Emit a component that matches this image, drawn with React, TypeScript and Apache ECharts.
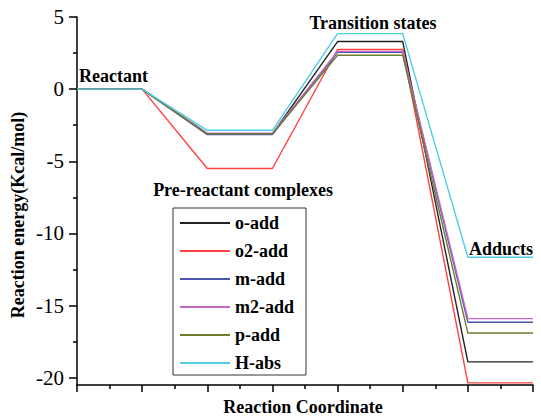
import React, { useEffect, useRef } from "react";
import * as echarts from "echarts";

const stages = [0, 1, 2, 3, 4, 5, 6, 7];
const seriesNames = ["o-add", "o2-add", "m-add", "m2-add", "p-add", "H-abs"];
const oAdd = [0, 0, -3.1, -3.1, 3.3, 3.3, -18.9, -18.9];
const o2Add = [0, 0, -5.5, -5.5, 2.75, 2.75, -20.35, -20.35];
const mAdd = [0, 0, -3.15, -3.15, 2.55, 2.55, -16.15, -16.15];
const m2Add = [0, 0, -3.05, -3.05, 2.62, 2.62, -15.9, -15.9];
const pAdd = [0, 0, -3.1, -3.1, 2.35, 2.35, -16.9, -16.9];
const hAbs = [0, 0, -2.85, -2.85, 3.85, 3.85, -11.65, -11.65];
const seriesValues = [oAdd, o2Add, mAdd, m2Add, pAdd, hAbs];
const colors = ["#222222", "#ff4040", "#4a56b0", "#c06ac6", "#6f7d2e", "#4fcde6"];
const yMajorTicks = [-20, -15, -10, -5, 0, 5];
const yMinorTicks = [-17.5, -12.5, -7.5, -2.5, 2.5];
const annotations = [
  { text: "Reactant", x: 79, y: 76, align: "left" },
  { text: "Pre-reactant complexes", x: 243, y: 190, align: "center" },
  { text: "Transition states", x: 373, y: 23, align: "center" },
  { text: "Adducts", x: 469, y: 249, align: "left" },
];

const FONT = "Times New Roman, Liberation Serif, DejaVu Serif, serif";

export default function App() {
  const ref = useRef<HTMLDivElement>(null);
  useEffect(() => {
    if (!ref.current) return;
    const chart = echarts.init(ref.current, null, { renderer: "svg" });
    const series = seriesNames.map((name, k) => ({
      name,
      type: "line",
      yAxisIndex: 0,
      data: stages.map((x, i) => [x, seriesValues[k][i]]),
      symbol: "none",
      lineStyle: { color: colors[k], width: 1.4 },
      itemStyle: { color: colors[k] },
    }));
    const textStyleBase = {
      fontFamily: FONT,
      fontWeight: "bold",
      fontSize: 18,
      fill: "#000",
      textVerticalAlign: "middle",
    };
    const graphics: any[] = annotations.map((a) => ({
      type: "text",
      x: a.x,
      y: a.y,
      style: { ...textStyleBase, text: a.text, textAlign: a.align },
    }));
    graphics.push({
      type: "text",
      x: 18,
      y: 215,
      rotation: Math.PI / 2,
      style: { ...textStyleBase, text: "Reaction energy(Kcal/mol)", textAlign: "center" },
    });
    graphics.push({
      type: "text",
      x: 303,
      y: 407,
      style: { ...textStyleBase, text: "Reaction Coordinate", textAlign: "center" },
    });
    chart.setOption({
      animation: false,
      backgroundColor: "#fff",
      textStyle: { fontFamily: FONT },
      grid: { left: 77, right: 8, top: 17, bottom: 31 },
      legend: {
        orient: "vertical",
        left: 173,
        top: 208,
        data: seriesNames,
        itemWidth: 50,
        itemHeight: 14,
        itemGap: 10,
        padding: [6, 12, 3, 6],
        borderColor: "#333",
        borderWidth: 1,
        itemStyle: { opacity: 0 },
        textStyle: { fontFamily: FONT, fontWeight: "bold", fontSize: 18, color: "#000" },
      },
      xAxis: {
        type: "value",
        min: 0,
        max: 7,
        interval: 1,
        axisLine: { onZero: false, lineStyle: { color: "#000", width: 1.5 } },
        axisTick: { show: true, length: 7, lineStyle: { color: "#000", width: 1.5 } },
        minorTick: { show: true, splitNumber: 2, length: 4, lineStyle: { color: "#000", width: 1.5 } },
        axisLabel: { show: false },
        splitLine: { show: false },
      },
      yAxis: [
        {
          type: "value",
          min: -20.5,
          max: 5,
          position: "left",
          axisLine: { onZero: false, lineStyle: { color: "#000", width: 1.5 } },
          axisTick: { show: true, length: 8, customValues: yMajorTicks, lineStyle: { color: "#000", width: 1.5 } },
          axisLabel: {
            customValues: yMajorTicks,
            margin: 13,
            fontFamily: FONT,
            fontSize: 21,
            color: "#000",
          },
          splitLine: { show: false },
        },
        {
          type: "value",
          min: -20.5,
          max: 5,
          position: "left",
          axisLine: { show: false, onZero: false },
          axisTick: { show: true, length: 4, customValues: yMinorTicks, lineStyle: { color: "#000", width: 1.5 } },
          axisLabel: { show: false },
          splitLine: { show: false },
        },
      ],
      series,
      graphic: graphics,
    });
    return () => chart.dispose();
  }, []);
  return (
    <div
      ref={ref}
      style={{ position: "fixed", left: 0, top: 0, width: 541, height: 416 }}
    />
  );
}
